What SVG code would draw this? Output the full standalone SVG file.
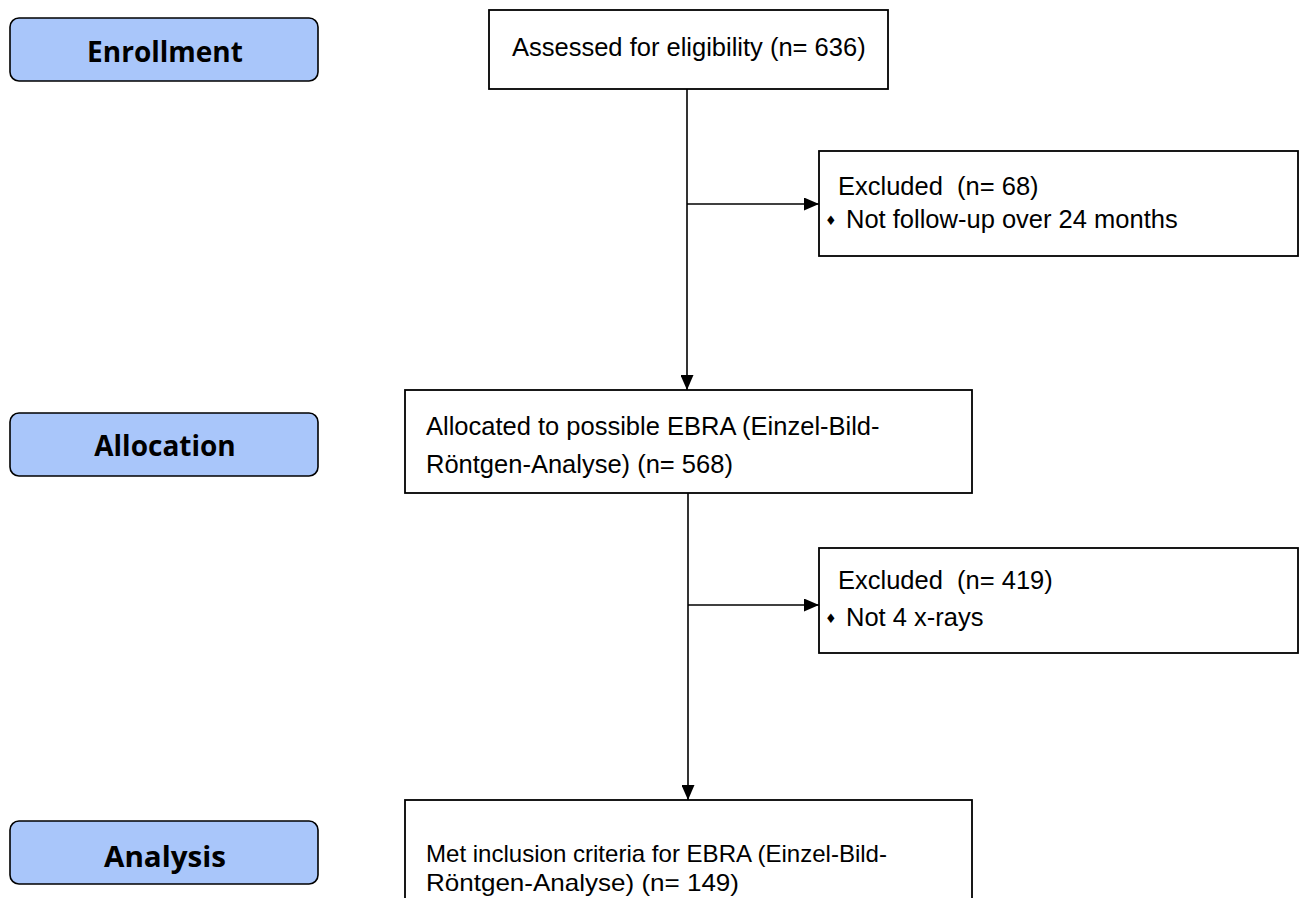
<svg xmlns="http://www.w3.org/2000/svg" width="1309" height="898" viewBox="0 0 1309 898">
<style>
.stage rect{fill:#a9c6fa;stroke:#000;stroke-width:1.6}
.stage text{font-family:"Open Sans","Noto Sans",sans-serif;font-weight:bold;font-size:28px;fill:#000;text-anchor:middle}
.box rect{fill:#fff;stroke:#000;stroke-width:1.8}
.box text{font-family:"Liberation Sans",Arial,sans-serif;font-size:25.5px;fill:#000;white-space:pre}
.box .bul{font-family:"DejaVu Sans",sans-serif;font-size:13px}
.box .sm{font-size:24px}
.conn line{stroke:#000;stroke-width:1.6;fill:none}
</style>
<defs>
<marker id="ah" markerWidth="15" markerHeight="13" refX="15" refY="6.5" orient="auto" markerUnits="userSpaceOnUse">
<path d="M0,0 L15,6.5 L0,13 Z" fill="#000"/>
</marker>
</defs>
<g id="enrollment" class="stage"><rect x="10" y="18" width="308" height="63" rx="9"/><text x="165" y="62">Enrollment</text></g>
<g id="allocation" class="stage"><rect x="10" y="413" width="308" height="63" rx="9"/><text x="165" y="456">Allocation</text></g>
<g id="analysis" class="stage"><rect x="10" y="821" width="308" height="63" rx="9"/><text x="165" y="867" textLength="122" lengthAdjust="spacingAndGlyphs">Analysis</text></g>
<g id="assessed" class="box"><rect x="489" y="10" width="399" height="79"/><text x="512" y="56">Assessed for eligibility (n= 636)</text></g>
<g id="excluded1" class="box"><rect x="819" y="151" width="479" height="105"/><text x="838" y="195">Excluded  (n= 68)</text><text class="bul" x="825" y="225">♦</text><text x="846" y="228">Not follow-up over 24 months</text></g>
<g id="allocated" class="box"><rect x="405" y="390" width="567" height="103"/><text x="426" y="435">Allocated to possible EBRA (Einzel-Bild-</text><text x="426" y="473">Röntgen-Analyse) (n= 568)</text></g>
<g id="excluded2" class="box"><rect x="819" y="548" width="479" height="105"/><text x="838" y="589">Excluded  (n= 419)</text><text class="bul" x="825" y="623">♦</text><text x="846" y="626">Not 4 x-rays</text></g>
<g id="met" class="box"><rect x="405" y="800" width="567" height="110"/><text class="sm" x="426" y="862" textLength="461" lengthAdjust="spacingAndGlyphs">Met inclusion criteria for EBRA (Einzel-Bild-</text><text class="sm" x="426" y="891" textLength="313" lengthAdjust="spacingAndGlyphs">Röntgen-Analyse) (n= 149)</text></g>
<g id="connectors" class="conn">
<line x1="687" y1="89" x2="687" y2="390" marker-end="url(#ah)"/>
<line x1="687" y1="204" x2="819" y2="204" marker-end="url(#ah)"/>
<line x1="688" y1="493" x2="688" y2="800" marker-end="url(#ah)"/>
<line x1="688" y1="605" x2="819" y2="605" marker-end="url(#ah)"/>
</g>
</svg>
